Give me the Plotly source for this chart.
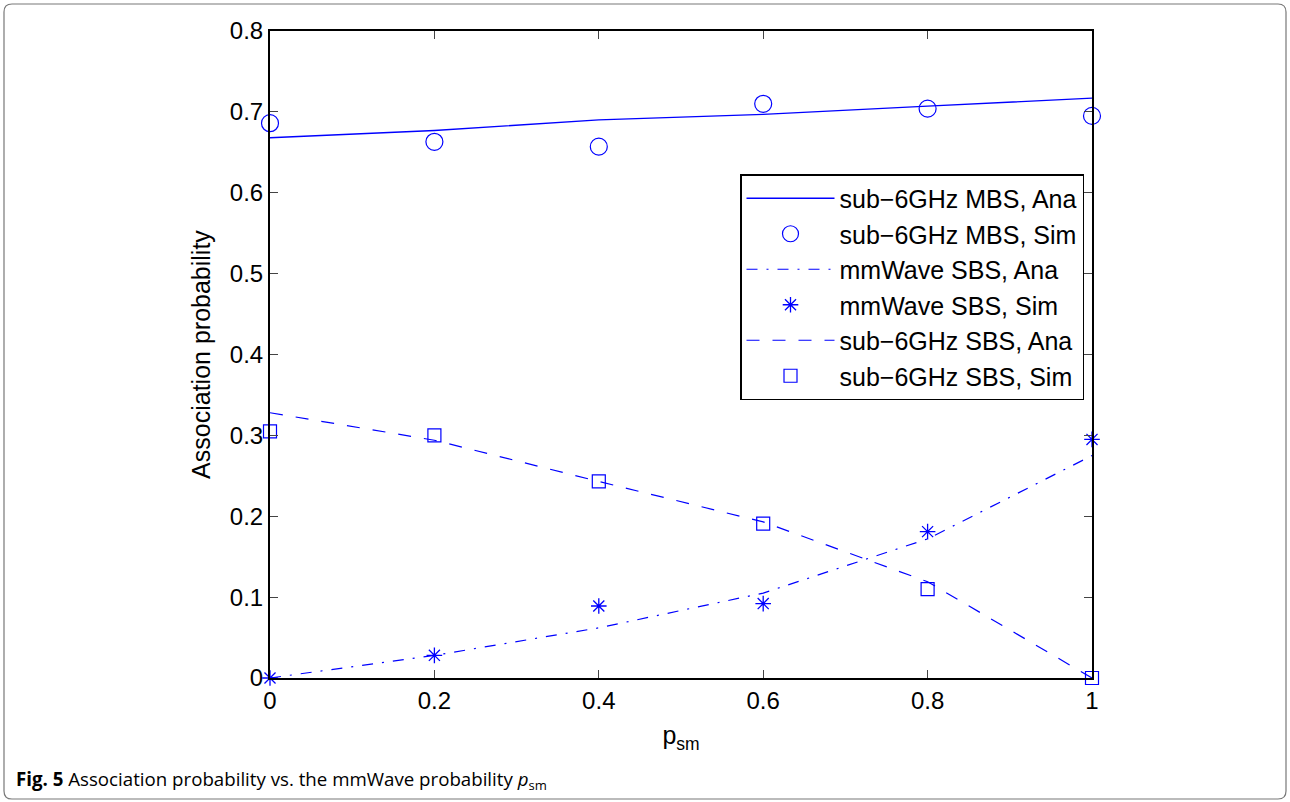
import plotly.graph_objects as go

p_sm = [0, 0.2, 0.4, 0.6, 0.8, 1.0]
mbs_ana = [0.668, 0.677, 0.690, 0.697, 0.707, 0.717]
mbs_sim = [0.686, 0.663, 0.657, 0.710, 0.704, 0.695]
mmw_ana = [0.0, 0.028, 0.062, 0.105, 0.172, 0.275]
mmw_sim = [0.0, 0.028, 0.089, 0.092, 0.181, 0.295]
sbs_ana = [0.328, 0.294, 0.243, 0.193, 0.119, 0.0]
sbs_sim = [0.305, 0.300, 0.243, 0.191, 0.110, 0.0]

x_ticks = [0, 0.2, 0.4, 0.6, 0.8, 1]
x_ticktext = ["0", "0.2", "0.4", "0.6", "0.8", "1"]
y_ticks = [0, 0.1, 0.2, 0.3, 0.4, 0.5, 0.6, 0.7, 0.8]
y_ticktext = ["0", "0.1", "0.2", "0.3", "0.4", "0.5", "0.6", "0.7", "0.8"]

BLUE = "rgb(0,0,255)"
W, H = 1290, 802
L, R, T, B = 270, 1092, 31, 678

fig = go.Figure()
fig.add_trace(go.Scatter(x=p_sm, y=mbs_ana, mode="lines", name="sub\u22126GHz MBS, Ana",
                         legendgroup="a", cliponaxis=False,
                         line=dict(color=BLUE, width=1.3)))
fig.add_trace(go.Scatter(x=p_sm, y=mbs_sim, mode="markers", name="sub\u22126GHz MBS, Sim",
                         legendgroup="b", cliponaxis=False,
                         marker=dict(symbol="circle-open", size=17, color=BLUE, line=dict(width=1.2))))
fig.add_trace(go.Scatter(x=p_sm, y=mmw_ana, mode="lines", name="mmWave SBS, Ana",
                         legendgroup="c", cliponaxis=False,
                         line=dict(color=BLUE, width=1.2, dash="11px,9px,2px,9px")))
fig.add_trace(go.Scatter(x=p_sm, y=mmw_sim, mode="markers", name="mmWave SBS, Sim",
                         legendgroup="d", cliponaxis=False,
                         marker=dict(symbol="asterisk-open", size=13, color=BLUE, line=dict(width=1.3, color=BLUE))))
fig.add_trace(go.Scatter(x=p_sm, y=sbs_ana, mode="lines", name="sub\u22126GHz SBS, Ana",
                         legendgroup="e", cliponaxis=False,
                         line=dict(color=BLUE, width=1.2, dash="13px,13px")))
fig.add_trace(go.Scatter(x=p_sm, y=sbs_sim, mode="markers", name="sub\u22126GHz SBS, Sim",
                         legendgroup="f", cliponaxis=False,
                         marker=dict(symbol="square-open", size=13, color=BLUE, line=dict(width=1.2))))

def px(x):
    return (x - L) / (R - L)

def py(y):
    return (B - y) / (B - T)

# outer rounded frame
x0, x1, y0, y1 = 4, 1286, 4, 799
r = 8
path = (f"M {px(x0 + r)},{py(y0)} L {px(x1 - r)},{py(y0)} Q {px(x1)},{py(y0)} {px(x1)},{py(y0 + r)} "
        f"L {px(x1)},{py(y1 - r)} Q {px(x1)},{py(y1)} {px(x1 - r)},{py(y1)} "
        f"L {px(x0 + r)},{py(y1)} Q {px(x0)},{py(y1)} {px(x0)},{py(y1 - r)} "
        f"L {px(x0)},{py(y0 + r)} Q {px(x0)},{py(y0)} {px(x0 + r)},{py(y0)} Z")

font_fam = "Liberation Sans, Arial, sans-serif"
fig.update_layout(
    width=W, height=H,
    margin=dict(l=L, r=W - R, t=T, b=H - B),
    paper_bgcolor="white", plot_bgcolor="white",
    font=dict(family=font_fam, size=24, color="black"),
    showlegend=True,
    legend=dict(x=px(740), y=py(174), xanchor="left", yanchor="top",
                bgcolor="white", bordercolor="black", borderwidth=1.5,
                font=dict(size=25, family=font_fam), tracegroupgap=0,
                itemwidth=88),
    xaxis=dict(range=[0, 1], tickvals=x_ticks, ticktext=x_ticktext, ticks="inside", ticklen=8,
               showline=True, linecolor="black", linewidth=2, mirror="ticks", showgrid=False,
               zeroline=False, tickfont=dict(size=24),
               title=dict(text="p<sub>sm</sub>", font=dict(size=25), standoff=14)),
    yaxis=dict(range=[0, 0.8], tickvals=y_ticks, ticktext=y_ticktext, ticks="inside", ticklen=8,
               showline=True, linecolor="black", linewidth=2, mirror="ticks", showgrid=False,
               zeroline=False, tickfont=dict(size=24),
               title=dict(text="Association probability", font=dict(size=25), standoff=12)),
    shapes=[dict(type="path", xref="paper", yref="paper", path=path,
                 line=dict(color="rgb(120,120,120)", width=1.2), layer="below")],
    annotations=[dict(xref="paper", yref="paper", x=px(14), y=py(780), xanchor="left", yanchor="middle",
                      showarrow=False,
                      text="<b>Fig. 5</b> Association probability vs. the mmWave probability <i>p</i><sub>sm</sub>",
                      font=dict(family="Open Sans, Noto Sans, sans-serif", size=18.7, color="black"))],
)

fig.write_html("out.html")
